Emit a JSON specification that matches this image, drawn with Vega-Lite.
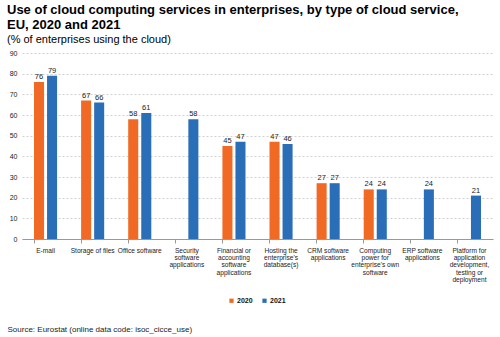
{
  "$schema": "https://vega.github.io/schema/vega-lite/v6.json",
  "width": 500,
  "height": 337,
  "autosize": {"type": "fit", "contains": "padding"},
  "padding": {"left": 7, "right": 7, "top": 4, "bottom": 4},
  "background": "white",
  "title": {
    "text": ["Use of cloud computing services in enterprises, by type of cloud service,", "EU, 2020 and 2021"],
    "subtitle": "(% of enterprises using the cloud)",
    "anchor": "start",
    "font": "Liberation Sans",
    "fontSize": 13,
    "fontWeight": "bold",
    "lineHeight": 15,
    "subtitleFont": "Liberation Sans",
    "subtitleFontSize": 11,
    "subtitleColor": "black",
    "subtitlePadding": 2,
    "offset": 4
  },
  "data": {
    "values": [
      {"category": "E-mail", "year": "2020", "value": 76},
      {"category": "E-mail", "year": "2021", "value": 79},
      {"category": "Storage of files", "year": "2020", "value": 67},
      {"category": "Storage of files", "year": "2021", "value": 66},
      {"category": "Office software", "year": "2020", "value": 58},
      {"category": "Office software", "year": "2021", "value": 61},
      {"category": "Security|software|applications", "year": "2021", "value": 58},
      {"category": "Financial or|accounting|software|applications", "year": "2020", "value": 45},
      {"category": "Financial or|accounting|software|applications", "year": "2021", "value": 47},
      {"category": "Hosting the|enterprise's|database(s)", "year": "2020", "value": 47},
      {"category": "Hosting the|enterprise's|database(s)", "year": "2021", "value": 46},
      {"category": "CRM software|applications", "year": "2020", "value": 27},
      {"category": "CRM software|applications", "year": "2021", "value": 27},
      {"category": "Computing|power for|enterprise's own|software", "year": "2020", "value": 24},
      {"category": "Computing|power for|enterprise's own|software", "year": "2021", "value": 24},
      {"category": "ERP software|applications", "year": "2021", "value": 24},
      {"category": "Platform for|application|development,|testing or|deployment", "year": "2021", "value": 21}
    ]
  },
  "encoding": {
    "x": {
      "field": "category",
      "type": "nominal",
      "sort": null,
      "scale": {"paddingInner": 0.51, "paddingOuter": 0.255},
      "axis": {
        "labelExpr": "split(datum.value, '|')",
        "labelAngle": 0,
        "labelFont": "Liberation Sans",
        "labelFontSize": 6.6,
        "labelLineHeight": 7.4,
        "labelColor": "#222",
        "labelPadding": 4,
        "domainColor": "#999",
        "tickColor": "#999",
        "tickSize": 4,
        "bandPosition": 0,
        "title": "Source: Eurostat (online data code: isoc_cicce_use)",
        "titleFont": "Liberation Sans",
        "titleFontSize": 8,
        "titleFontWeight": "normal",
        "titleColor": "#222",
        "titleAnchor": "start",
        "titleAlign": "left",
        "titleBaseline": "middle",
        "titleX": -15,
        "titleY": 90
      }
    },
    "xOffset": {"field": "year", "type": "nominal", "scale": {"domain": ["2020", "2021"], "paddingInner": 0.23, "paddingOuter": 0}},
    "y": {
      "field": "value",
      "type": "quantitative",
      "scale": {"domain": [0, 90]},
      "axis": {
        "title": null,
        "values": [0, 10, 20, 30, 40, 50, 60, 70, 80, 90],
        "domain": false,
        "ticks": false,
        "labelFont": "Liberation Sans",
        "labelFontSize": 7,
        "labelColor": "#222",
        "labelPadding": 5,
        "gridColor": "#d0d0d0",
        "gridDash": [2, 2]
      }
    },
    "color": {
      "field": "year",
      "type": "nominal",
      "scale": {"domain": ["2020", "2021"], "range": ["#F06A25", "#2A6EB8"]},
      "legend": {
        "title": null,
        "orient": "none",
        "direction": "horizontal",
        "legendX": 206,
        "legendY": 244,
        "symbolType": "square",
        "symbolSize": 18,
        "labelFont": "Liberation Sans",
        "labelFontSize": 7,
        "labelFontWeight": "bold",
        "labelColor": "#111",
        "labelOffset": 2,
        "columnPadding": 8
      }
    }
  },
  "layer": [
    {"mark": {"type": "bar"}},
    {
      "mark": {"type": "text", "dy": -5, "font": "Liberation Sans", "fontSize": 7.5, "color": "#222"},
      "encoding": {"text": {"field": "value", "type": "quantitative"}, "color": {"value": "#222"}}
    }
  ],
  "config": {"view": {"stroke": null}}
}
